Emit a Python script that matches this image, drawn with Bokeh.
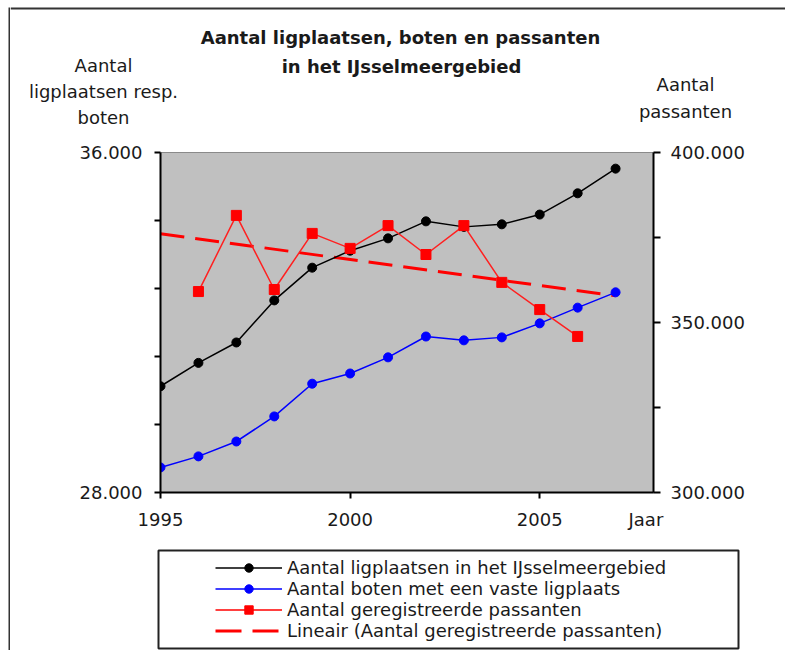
import numpy as np
from bokeh.plotting import figure
from bokeh.layouts import row, column
from bokeh.models import (Range1d, LinearAxis, FixedTicker, Label, Legend,
                          LegendItem, BoxAnnotation)
from bokeh.embed import file_html
from bokeh.resources import INLINE

# ---------------- data ----------------
years = [1995, 1996, 1997, 1998, 1999, 2000, 2001, 2002, 2003, 2004, 2005, 2006, 2007]
ligplaatsen = [30500, 31050, 31530, 32520, 33290, 33690, 33980, 34380, 34250, 34310, 34540, 35040, 35620]
boten = [28590, 28850, 29200, 29790, 30560, 30800, 31180, 31670, 31580, 31650, 31980, 32350, 32710]
pass_years = [1996, 1997, 1998, 1999, 2000, 2001, 2002, 2003, 2004, 2005, 2006]
passanten = [359100, 381500, 359700, 376200, 371800, 378500, 370000, 378500, 361800, 353800, 345900]

x_ticks = [1995, 2000, 2005]
x_axis_title_pos = 2007.8          # where the word "Jaar" sits on the x axis
left_ticks = [28000, 29600, 31200, 32800, 34400, 36000]
left_tick_labels = {28000: "28.000", 36000: "36.000"}
right_ticks = [300000, 325000, 350000, 375000, 400000]
right_tick_labels = {300000: "300.000", 350000: "350.000", 400000: "400.000"}

title_lines = ["Aantal ligplaatsen, boten en passanten", "in het IJsselmeergebied"]
left_title = ["Aantal", "ligplaatsen resp.", "boten"]
right_title = ["Aantal", "passanten"]
x_title = "Jaar"
legend_labels = ["Aantal ligplaatsen in het IJsselmeergebied",
                 "Aantal boten met een vaste ligplaats",
                 "Aantal geregistreerde passanten",
                 "Lineair (Aantal geregistreerde passanten)"]

# Excel-style linear trendline of the passanten series, drawn 1995-2007
coef = np.polyfit(pass_years, passanten, 1)
trend_x = [1995, 2007]
trend_y = [float(v) for v in np.polyval(coef, trend_x)]

# ---------------- common style ----------------
FONT = "DejaVu Sans"
FS = "18px"
TXT = "#1a1a1a"
BORDER = "#333333"
EW = 10                       # width of the strip holding the left outer border
CW = 775                      # width of the content column
HH, HM, HF = 130, 405, 115    # header / main / footer heights
HT = HH + HM + HF

def blank_fig(w, h):
    return figure(width=w, height=h, x_range=Range1d(0, w), y_range=Range1d(0, h),
                  min_border=0, x_axis_type=None, y_axis_type=None,
                  toolbar_location=None, output_backend="svg",
                  outline_line_color=None, background_fill_color="white",
                  border_fill_color="white", frame_align=False)

# ---------------- left outer border strip ----------------
edge = blank_fig(EW, HT)
edge.add_layout(BoxAnnotation(left=8, right=EW, bottom=0, top=HT - 7,
                              fill_color=BORDER, fill_alpha=1, line_color=None))

# ---------------- header (titles) ----------------
header = blank_fig(CW, HH)
header.add_layout(BoxAnnotation(left=0, right=CW, bottom=HH - 9, top=HH - 7,
                                fill_color=BORDER, fill_alpha=1, line_color=None))

def htext(x, y_down, text, bold=False):
    header.add_layout(Label(x=x - EW, y=HH - y_down, text=text, text_align="center",
                            text_baseline="middle", text_font=FONT,
                            text_font_size=FS, text_color=TXT,
                            text_font_style="bold" if bold else "normal"))

htext(400, 37, title_lines[0], bold=True)
htext(401, 66, title_lines[1], bold=True)
for i, t in enumerate(left_title):
    htext(103, 65 + 26 * i, t)
for i, t in enumerate(right_title):
    htext(685, 84 + 27 * i, t)

# ---------------- main chart ----------------
p = figure(width=CW, height=HM, output_backend="svg", toolbar_location=None,
           x_range=Range1d(1995, 2008), y_range=Range1d(28000, 36000),
           min_border_left=150, min_border_right=132, min_border_top=22,
           min_border_bottom=43, title=None, x_axis_type=None, frame_align=False,
           background_fill_color="#C0C0C0", border_fill_color="white",
           outline_line_color="#8a8a8a", outline_line_width=1)
p.extra_y_ranges = {"pass": Range1d(300000, 400000)}
p.ygrid.grid_line_color = None

def style_axis(ax):
    ax.axis_line_color = "black"
    ax.axis_line_width = 2
    ax.major_tick_line_color = "black"
    ax.major_tick_line_width = 2
    ax.major_tick_in = 0
    ax.major_tick_out = 6
    ax.minor_tick_line_color = None
    ax.major_label_text_font = FONT
    ax.major_label_text_font_size = FS
    ax.major_label_text_color = TXT

# x axis: line + ticks
xa = LinearAxis(ticker=FixedTicker(ticks=x_ticks))
style_axis(xa)
xa.major_label_overrides = {t: "" for t in x_ticks}
xa.major_label_text_font_size = "1px"
xa.major_label_standoff = 0
p.add_layout(xa, "below")

# x axis labels row (years + "Jaar")
xl_ticks = x_ticks + [x_axis_title_pos]
xl = LinearAxis(ticker=FixedTicker(ticks=xl_ticks))
style_axis(xl)
xl.axis_line_color = None
xl.major_tick_line_color = None
xl.major_tick_out = 0
xl.major_label_overrides = {**{t: str(t) for t in x_ticks}, x_axis_title_pos: x_title}
xl.major_label_standoff = 10
p.add_layout(xl, "below")

ya = p.yaxis[0]
style_axis(ya)
ya.ticker = FixedTicker(ticks=left_ticks)
ya.major_label_overrides = {t: left_tick_labels.get(t, "") for t in left_ticks}
ya.major_label_standoff = 12

ra = LinearAxis(y_range_name="pass")
style_axis(ra)
ra.major_tick_out = 7
ra.ticker = FixedTicker(ticks=right_ticks)
ra.major_label_overrides = {t: right_tick_labels.get(t, "") for t in right_ticks}
ra.major_label_standoff = 10
p.add_layout(ra, "right")

BLACK, BLUE, RED = "#000000", "#0000FF", "#FF0000"
p.line(trend_x, trend_y, y_range_name="pass", color=RED, line_width=3, line_dash="24 11")
p.line(years, ligplaatsen, color=BLACK, line_width=1.5)
p.scatter(years, ligplaatsen, size=9, color=BLACK, marker="circle")
p.line(years, boten, color=BLUE, line_width=1.5)
p.scatter(years, boten, size=9, color=BLUE, marker="circle")
p.line(pass_years, passanten, y_range_name="pass", color="#FF2020", line_width=1.5)
p.scatter(pass_years, passanten, y_range_name="pass", size=10, color=RED, marker="square")

# ---------------- footer (legend) ----------------
footer = blank_fig(CW, HF)
FT = HH + HM   # page y of the footer top
footer.add_layout(BoxAnnotation(left=158 - EW, right=738 - EW,
                                top=HF - (550 - FT), bottom=HF - (648 - FT),
                                fill_alpha=0, line_color="#222222", line_alpha=1,
                                line_width=2))
# legend key renderers (style proxies, kept outside the visible footer area)
ox, oy = [-100], [-100]
k1 = footer.line(ox, oy, color=BLACK, line_width=1.5)
m1 = footer.scatter(ox, oy, size=9, color=BLACK, marker="circle")
k2 = footer.line(ox, oy, color=BLUE, line_width=1.5)
m2 = footer.scatter(ox, oy, size=9, color=BLUE, marker="circle")
k3 = footer.line(ox, oy, color=RED, line_width=1.5)
m3 = footer.scatter(ox, oy, size=10, color=RED, marker="square")
k4 = footer.line(ox, oy, color=RED, line_width=3, line_dash="26 11")
legend = Legend(items=[
    LegendItem(label=legend_labels[0], renderers=[k1, m1]),
    LegendItem(label=legend_labels[1], renderers=[k2, m2]),
    LegendItem(label=legend_labels[2], renderers=[k3, m3]),
    LegendItem(label=legend_labels[3], renderers=[k4]),
], location=(215 - EW, HF - (630 + 10.5 - FT)), orientation="vertical",
    padding=0, spacing=0, margin=0, label_height=21, glyph_height=21,
    glyph_width=67, label_standoff=5,
    label_text_font=FONT, label_text_font_size=FS, label_text_color=TXT,
    border_line_color=None, background_fill_alpha=0)
footer.add_layout(legend, "center")

layout = row(edge, column(header, p, footer))
open("out.html", "w").write(file_html(layout, INLINE))
